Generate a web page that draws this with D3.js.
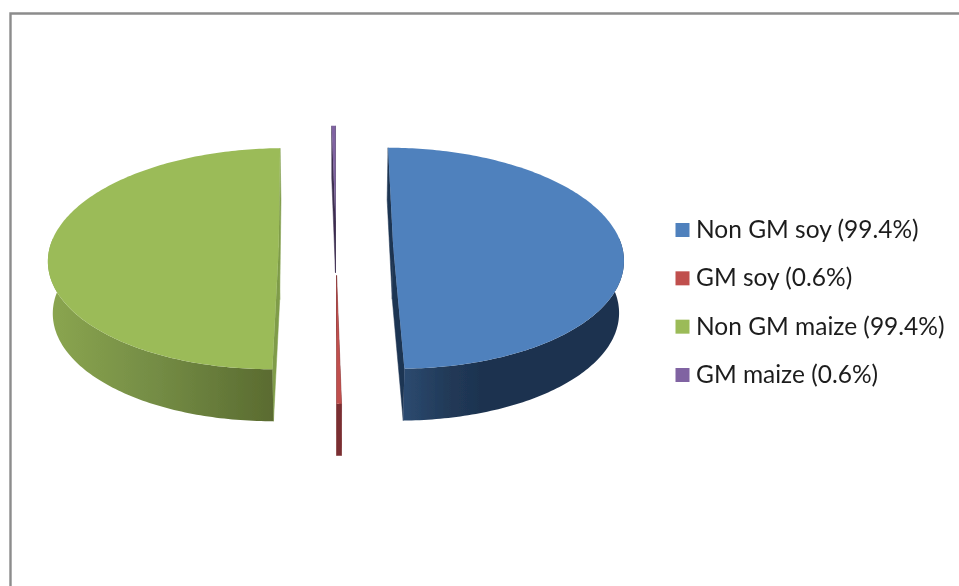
<!DOCTYPE html>
<html>
<head>
<meta charset="utf-8">
<script src="https://cdn.jsdelivr.net/npm/d3@7"></script>
<style>
html,body{margin:0;padding:0;background:#fff;}
svg{display:block;}
text{font-family:Lato,"Open Sans",sans-serif;}
</style>
</head>
<body>
<svg id="chart" width="959" height="586"></svg>
<script>
const categories = ["Non GM soy", "GM soy", "Non GM maize", "GM maize"];
const values = [99.4, 0.6, 99.4, 0.6];
const labels = ["Non GM soy (99.4%)", "GM soy (0.6%)", "Non GM maize (99.4%)", "GM maize (0.6%)"];
const topColors = ["#4f81bd", "#c0504d", "#9bbb59", "#8064a2"];
const cutColors = ["#1f3552", "#7a2e30", "#7f9c49", "#3d2f50"];
const sideStops = [
  [[0, "#2c4a70"], [0.2, "#213a58"], [0.35, "#1e3350"], [1, "#1e3350"]],
  [[0, "#7a2e30"], [1, "#7a2e30"]],
  [[0, "#8ba650"], [0.5, "#738b44"], [1, "#5a6b30"]],
  [[0, "#4d3c61"], [1, "#4d3c61"]]
];

const W = 959, H = 586;
const cx = 336, cy = 247.4, rx = 229, ry = 109.4, depth = 52;
const persp = 0.1, narrow = 0.017, explode = 0.25;

const svg = d3.select("#chart");
const defs = svg.append("defs");
defs.append("filter").attr("id", "soft")
  .attr("x", "-5%").attr("y", "-5%").attr("width", "110%").attr("height", "110%")
  .append("feGaussianBlur").attr("stdDeviation", 0.5);

svg.append("path")
  .attr("d", d3.line()([[10.5, H], [10.5, 13.5], [W, 13.5]]))
  .attr("fill", "none").attr("stroke", "#8c8c8c").attr("stroke-width", 2.4);

const pie = d3.pie().sort(null);
const arcs = pie(values);

function project(u, v, z) {
  const f = 1 / (1 - persp * v);
  return [cx + u * rx * f * (1 - narrow * z), cy + v * ry * f + z * depth];
}
const line = d3.line();

const order = d3.range(arcs.length).sort((a, b) => {
  const ma = (arcs[a].startAngle + arcs[a].endAngle) / 2;
  const mb = (arcs[b].startAngle + arcs[b].endAngle) / 2;
  return Math.cos(mb) - Math.cos(ma);
});

const pieLayer = svg.append("g").attr("filter", "url(#soft)");

order.forEach(i => {
  const a = arcs[i];
  const mid = (a.startAngle + a.endAngle) / 2;
  const ox = explode * Math.sin(mid), oy = -explode * Math.cos(mid);
  const n = Math.max(2, Math.ceil((a.endAngle - a.startAngle) * 60));
  const angles = d3.range(n + 1).map(k => a.startAngle + (a.endAngle - a.startAngle) * k / n);
  const rim = angles.map(t => [ox + Math.sin(t), oy - Math.cos(t)]);
  const P = (p, z) => project(p[0], p[1], z);
  const g = pieLayer.append("g").attr("class", "slice").attr("data-name", categories[i]);

  const apex = [ox, oy];
  [rim[0], rim[rim.length - 1]].forEach(r => {
    g.append("path")
      .attr("d", line([P(apex, 0), P(r, 0), P(r, 1), P(apex, 1)]) + "Z")
      .attr("fill", cutColors[i]).attr("stroke", cutColors[i]).attr("stroke-width", 0.5);
  });

  // outer wall: only the part of the rim that faces the viewer
  const frontAngles = angles.filter(t => -Math.cos(t) >= -0.1);
  const frontRim = frontAngles.map(t => [ox + Math.sin(t), oy - Math.cos(t)]);
  if (frontRim.length > 1) {
    const topFront = frontRim.map(p => P(p, 0));
    const botFront = frontRim.map(p => P(p, 1));
    const xs = d3.extent(topFront.concat(botFront), d => d[0]);
    const gid = "side" + i;
    const grad = defs.append("linearGradient").attr("id", gid)
      .attr("gradientUnits", "userSpaceOnUse")
      .attr("x1", xs[0]).attr("x2", xs[1]).attr("y1", 0).attr("y2", 0);
    sideStops[i].forEach(s => grad.append("stop").attr("offset", s[0]).attr("stop-color", s[1]));
    g.append("path")
      .attr("d", line(topFront.concat(botFront.slice().reverse())) + "Z")
      .attr("fill", `url(#${gid})`);
  }

  g.append("path")
    .attr("d", line([P(apex, 0)].concat(rim.map(p => P(p, 0)))) + "Z")
    .attr("fill", topColors[i]);
});

const legendY = d3.scalePoint().domain(categories).range([230, 375]);
const legend = svg.append("g").attr("class", "legend").attr("filter", "url(#soft)");
categories.forEach((c, i) => {
  legend.append("rect")
    .attr("x", 675.5).attr("y", legendY(c) - 7).attr("width", 14).attr("height", 14)
    .attr("fill", topColors[i]);
  legend.append("text")
    .attr("x", 696).attr("y", legendY(c) + 8)
    .attr("font-size", 24.5).attr("fill", "#1c1c1c")
    .text(labels[i]);
});
</script>
</body>
</html>
